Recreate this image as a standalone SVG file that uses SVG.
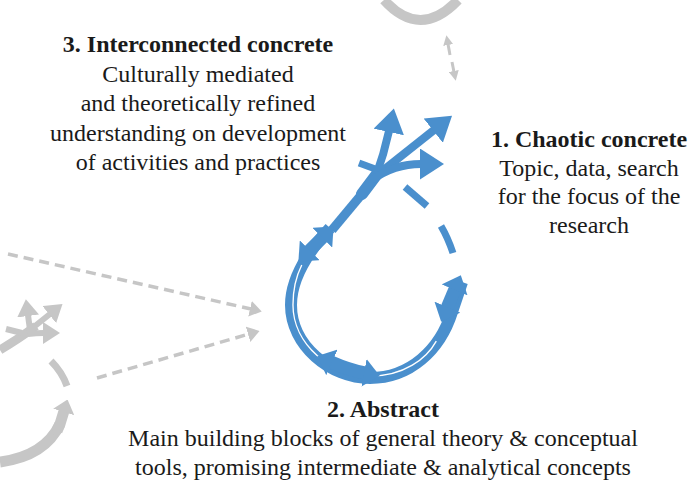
<svg xmlns="http://www.w3.org/2000/svg" width="691" height="487" viewBox="0 0 691 487">
  <style>
    .title { font-family: "Liberation Serif", "Times New Roman", serif; font-size: 24px; font-weight: bold; fill: #1a1a1a; text-anchor: middle; }
    .body { font-family: "Liberation Serif", "Times New Roman", serif; font-size: 24px; fill: #1a1a1a; text-anchor: middle; }
    .blue { fill: none; stroke: #4a8fcd; stroke-linejoin: round; }
    .grey { fill: none; stroke: #c6c6c6; }
    .greyDash { fill: none; stroke: #c6c6c6; stroke-width: 3.5; stroke-dasharray: 10 6; }
  </style>
  <defs>
    <marker id="bHead" viewBox="0 0 16 28" refX="1" refY="14" markerWidth="16" markerHeight="28" markerUnits="userSpaceOnUse" orient="auto-start-reverse">
      <path d="M0,0 L16,14 L0,28 z" fill="#4a8fcd"/>
    </marker>
    <marker id="bBranch" viewBox="0 0 24 31" refX="1" refY="15.5" markerWidth="24" markerHeight="31" markerUnits="userSpaceOnUse" orient="auto">
      <path d="M0,0 L24,15.5 L0,31 z" fill="#4a8fcd"/>
    </marker>
    <marker id="gHead" viewBox="0 0 12 16" refX="1" refY="8" markerWidth="12" markerHeight="16" markerUnits="userSpaceOnUse" orient="auto-start-reverse">
      <path d="M0,0 L12,8 L0,16 z" fill="#c6c6c6"/>
    </marker>
    <marker id="gBranch" viewBox="0 0 17 22" refX="1" refY="11" markerWidth="17" markerHeight="22" markerUnits="userSpaceOnUse" orient="auto">
      <path d="M0,0 L17,11 L0,22 z" fill="#c6c6c6"/>
    </marker>
    <marker id="gLoop" viewBox="0 0 13 22" refX="1" refY="11" markerWidth="13" markerHeight="22" markerUnits="userSpaceOnUse" orient="auto">
      <path d="M0,0 L13,11 L0,22 z" fill="#c6c6c6"/>
    </marker>
    <marker id="gSmall" viewBox="0 0 10 10" refX="1" refY="5" markerWidth="10" markerHeight="10" markerUnits="userSpaceOnUse" orient="auto">
      <path d="M0,0 L10,5 L0,10 z" fill="#c6c6c6"/>
    </marker>
  </defs>

  <!-- faded neighbouring cycles (grey) -->
  <g id="grey-top">
    <path class="grey" stroke-width="10" d="M 384 0 Q 420 40 458 0"/>
    <path class="grey" stroke-width="3" d="M 450 55 L 448 44" marker-end="url(#gSmall)"/>
    <path class="grey" stroke-width="3" d="M 452 62 L 454 72" marker-end="url(#gSmall)"/>
  </g>
  <g id="grey-left">
    <path class="grey" stroke-width="9" d="M 0 350 Q 20 338 36 326"/>
    <path class="grey" stroke-width="6" d="M 30 330 L 28 315" marker-end="url(#gBranch)"/>
    <path class="grey" stroke-width="6" d="M 30 330 L 50 314" marker-end="url(#gBranch)"/>
    <path class="grey" stroke-width="6" d="M 28 334 Q 36 333 44 333" marker-end="url(#gBranch)"/>
    <path class="grey" stroke-width="6" d="M 6 329 L 22 333"/>
    <path class="grey" stroke-width="7" d="M 51 361 Q 62 372 67 386"/>
    <path class="grey" stroke-width="11" d="M 0 462 Q 45 456 60 424 L 64 411" marker-end="url(#gLoop)"/>
    <path class="grey" stroke-width="11" d="M 60 424 L 57 431" marker-end="url(#gSmall)"/>
  </g>

  <!-- connectors: dashed links into the abstract stage -->
  <g id="connectors">
    <path class="greyDash" d="M 8 254 L 251 309" marker-end="url(#gHead)"/>
    <path class="greyDash" d="M 97 378 L 249 334" marker-end="url(#gHead)"/>
  </g>

  <!-- main ascent cycle (blue) -->
  <g id="cycle">
    <!-- loop body -->
    <path class="blue" stroke-width="12" d="M 330 228 C 305 255, 291 280, 291 305 C 291 345, 330 378, 370 378 C 410 378, 440 350, 452 312 L 462 282"/>
    <!-- thin light seam between the two strands -->
    <path fill="none" stroke="#ffffff" stroke-width="1.4" transform="translate(370 305) scale(0.975) translate(-370 -305)" d="M 300 264 C 294 276, 291 290, 291 305 C 291 345, 330 378, 370 378 C 405 378, 428 360, 438 342"/>
    <!-- trunk up to the branching point -->
    <path class="blue" stroke-width="9" d="M 332 230 L 372 182"/>
    <path class="blue" stroke-width="12" stroke-linecap="round" d="M 362 194 L 380 170"/>
    <!-- double-headed segments along the loop -->
    <path class="blue" stroke-width="13" d="M 309 251 L 323 237" marker-start="url(#bHead)" marker-end="url(#bHead)"/>
    <path class="blue" stroke-width="13" d="M 331 362 Q 349 370 365 373" marker-start="url(#bHead)" marker-end="url(#bHead)"/>
    <path class="blue" stroke-width="13" d="M 447 308 L 455 289" marker-start="url(#bHead)" marker-end="url(#bHead)"/>
    <!-- dashed return toward the branching point -->
    <path class="blue" stroke-width="7" d="M 405 187 L 427 206"/>
    <path class="blue" stroke-width="7" d="M 441 226 Q 448 238 453 253"/>
    <path class="blue" stroke-width="7" d="M 359 163 L 378 170"/>
  </g>
  <g id="branches">
    <path class="blue" stroke-width="8" d="M 376 176 Q 384 154 389 131" marker-end="url(#bBranch)"/>
    <path class="blue" stroke-width="8" d="M 376 176 L 434 130" marker-end="url(#bBranch)"/>
    <path class="blue" stroke-width="8" d="M 372 180 Q 394 164 421 164" marker-end="url(#bBranch)"/>
  </g>

  <!-- stage labels -->
  <g id="stage-3">
    <text class="title" x="198" y="52">3. Interconnected concrete</text>
    <text class="body" x="198" y="82">Culturally mediated</text>
    <text class="body" x="198" y="111">and theoretically refined</text>
    <text class="body" x="198" y="140.5">understanding on development</text>
    <text class="body" x="198" y="170">of activities and practices</text>
  </g>
  <g id="stage-1">
    <text class="title" x="589" y="147">1. Chaotic concrete</text>
    <text class="body" x="589" y="175.5">Topic, data, search</text>
    <text class="body" x="589" y="204">for the focus of the</text>
    <text class="body" x="589" y="232.5">research</text>
  </g>
  <g id="stage-2">
    <text class="title" x="383" y="417">2. Abstract</text>
    <text class="body" x="383" y="446">Main building blocks of general theory &amp; conceptual</text>
    <text class="body" x="383" y="475">tools, promising intermediate &amp; analytical concepts</text>
  </g>
</svg>
